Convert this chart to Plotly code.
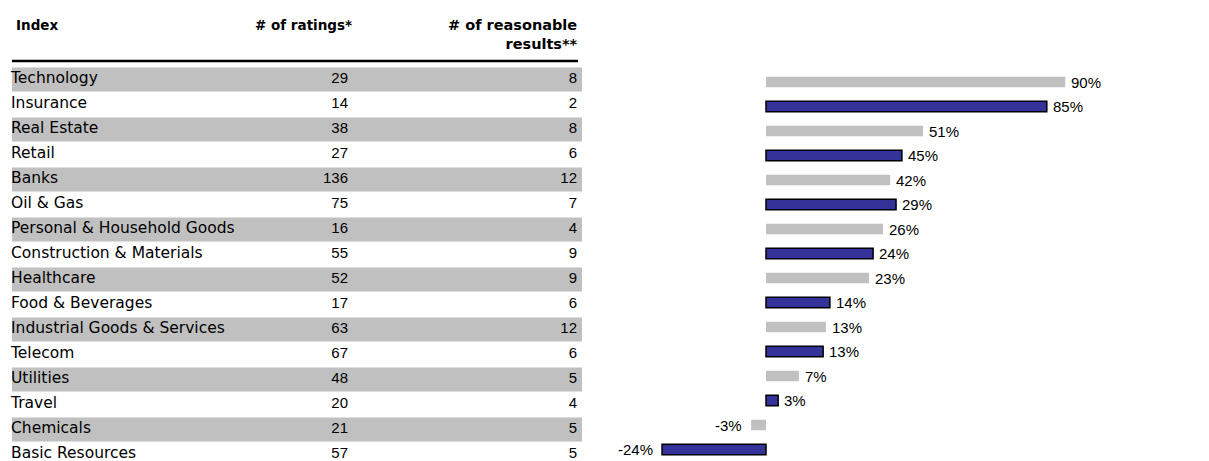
import plotly.graph_objects as go

# ---- data ----
index_names = ["Technology", "Insurance", "Real Estate", "Retail", "Banks", "Oil & Gas",
               "Personal & Household Goods", "Construction & Materials", "Healthcare",
               "Food & Beverages", "Industrial Goods & Services", "Telecom", "Utilities",
               "Travel", "Chemicals", "Basic Resources"]
num_ratings = [29, 14, 38, 27, 136, 75, 16, 55, 52, 17, 63, 67, 48, 20, 21, 57]
num_reasonable = [8, 2, 8, 6, 12, 7, 4, 9, 9, 6, 12, 6, 5, 4, 5, 5]
label_pct = [90, 85, 51, 45, 42, 29, 26, 24, 23, 14, 13, 13, 7, 3, -3, -24]
# bar lengths as drawn in the picture (bars are not proportional to the printed labels)
bar_length = [66.5, 62.4, 34.9, 30.2, 27.6, 28.9, 26.0, 23.8, 22.9, 14.2, 13.3, 12.7, 7.3, 2.7, -3.3, -23.1]
headers = ["Index", "# of ratings*", "# of reasonable<br>results**"]

W, H = 1209, 461
FONT = "Liberation Sans, Arial, sans-serif"
WIDE = "DejaVu Sans, Verdana, sans-serif"
GRAY = "#C0C0C0"
BLUE = "#333399"

n = len(index_names)
rows = list(range(n))

fig = go.Figure()

# table bands (alternate rows shaded)
band_colors = [GRAY if i % 2 == 0 else "rgba(0,0,0,0)" for i in rows]
fig.add_trace(go.Bar(
    y=rows, x=[570] * n, base=[12] * n, orientation="h", width=0.96,
    marker=dict(color=band_colors, line=dict(width=0)),
    xaxis="x", yaxis="y", hoverinfo="skip", showlegend=False))

fig.add_trace(go.Scatter(
    x=[11] * n, y=rows, mode="text", text=index_names, textposition="middle right",
    textfont=dict(family=WIDE, size=15.5, color="black"),
    xaxis="x", yaxis="y", hoverinfo="skip", showlegend=False))
fig.add_trace(go.Scatter(
    x=[348] * n, y=rows, mode="text", text=[str(v) for v in num_ratings],
    textposition="middle left", textfont=dict(family=FONT, size=15, color="black"),
    xaxis="x", yaxis="y", hoverinfo="skip", showlegend=False))
fig.add_trace(go.Scatter(
    x=[577] * n, y=rows, mode="text", text=[str(v) for v in num_reasonable],
    textposition="middle left", textfont=dict(family=FONT, size=15, color="black"),
    xaxis="x", yaxis="y", hoverinfo="skip", showlegend=False))

# bar chart
bar_colors = [GRAY if i % 2 == 0 else BLUE for i in rows]
line_colors = ["rgba(0,0,0,0)" if i % 2 == 0 else "black" for i in rows]
fig.add_trace(go.Bar(
    y=rows, x=bar_length, orientation="h", width=0.43,
    marker=dict(color=bar_colors, line=dict(color=line_colors, width=1.5)),
    xaxis="x2", yaxis="y2", hoverinfo="skip", showlegend=False))

# value labels at bar ends
for i, (b, v) in enumerate(zip(bar_length, label_pct)):
    pos = b >= 0
    fig.add_annotation(x=b, y=i, xref="x2", yref="y2", text=f"{v}%", showarrow=False,
                       xanchor="left" if pos else "right", yanchor="middle",
                       xshift=4 if pos else -7,
                       font=dict(family=FONT, size=15, color="black"))

# headers (pixel positions from top)
hdr = [(14, 25, headers[0], "left", 13.5),
       (354, 25, headers[1], "right", 13.5),
       (580, 34, headers[2], "right", 14.5)]
for x, ypx, t, anc, sz in hdr:
    fig.add_annotation(x=x, y=1 - ypx / H, xref="x", yref="paper", text=f"<b>{t}</b>",
                       showarrow=False, xanchor=anc, yanchor="middle", align="right",
                       font=dict(family=WIDE, size=sz, color="black"))

fig.add_shape(type="line", xref="x", yref="paper", x0=12, x1=578,
              y0=1 - 61 / H, y1=1 - 61 / H, line=dict(color="black", width=2.5))

fig.update_layout(
    width=W, height=H, margin=dict(l=0, r=0, t=0, b=0),
    paper_bgcolor="white", plot_bgcolor="rgba(0,0,0,0)",
    barmode="overlay",
    xaxis=dict(domain=[0, 1], range=[0, W], visible=False, fixedrange=True),
    yaxis=dict(domain=[0, 1], range=[(H - 79.5) / 25, -79.5 / 25], visible=False),
    xaxis2=dict(domain=[0, 1], range=[-766 / 4.5, (W - 766) / 4.5], visible=False,
                anchor="y2"),
    yaxis2=dict(domain=[0, 1], range=[(H - 82) / 24.5, -82 / 24.5], visible=False,
                anchor="x2", overlaying="y"),
    font=dict(family=FONT),
)

fig.write_html("out.html", config={"displayModeBar": False},
               post_script="document.body.style.margin='0px';"
                           "document.body.style.overflow='hidden';")
